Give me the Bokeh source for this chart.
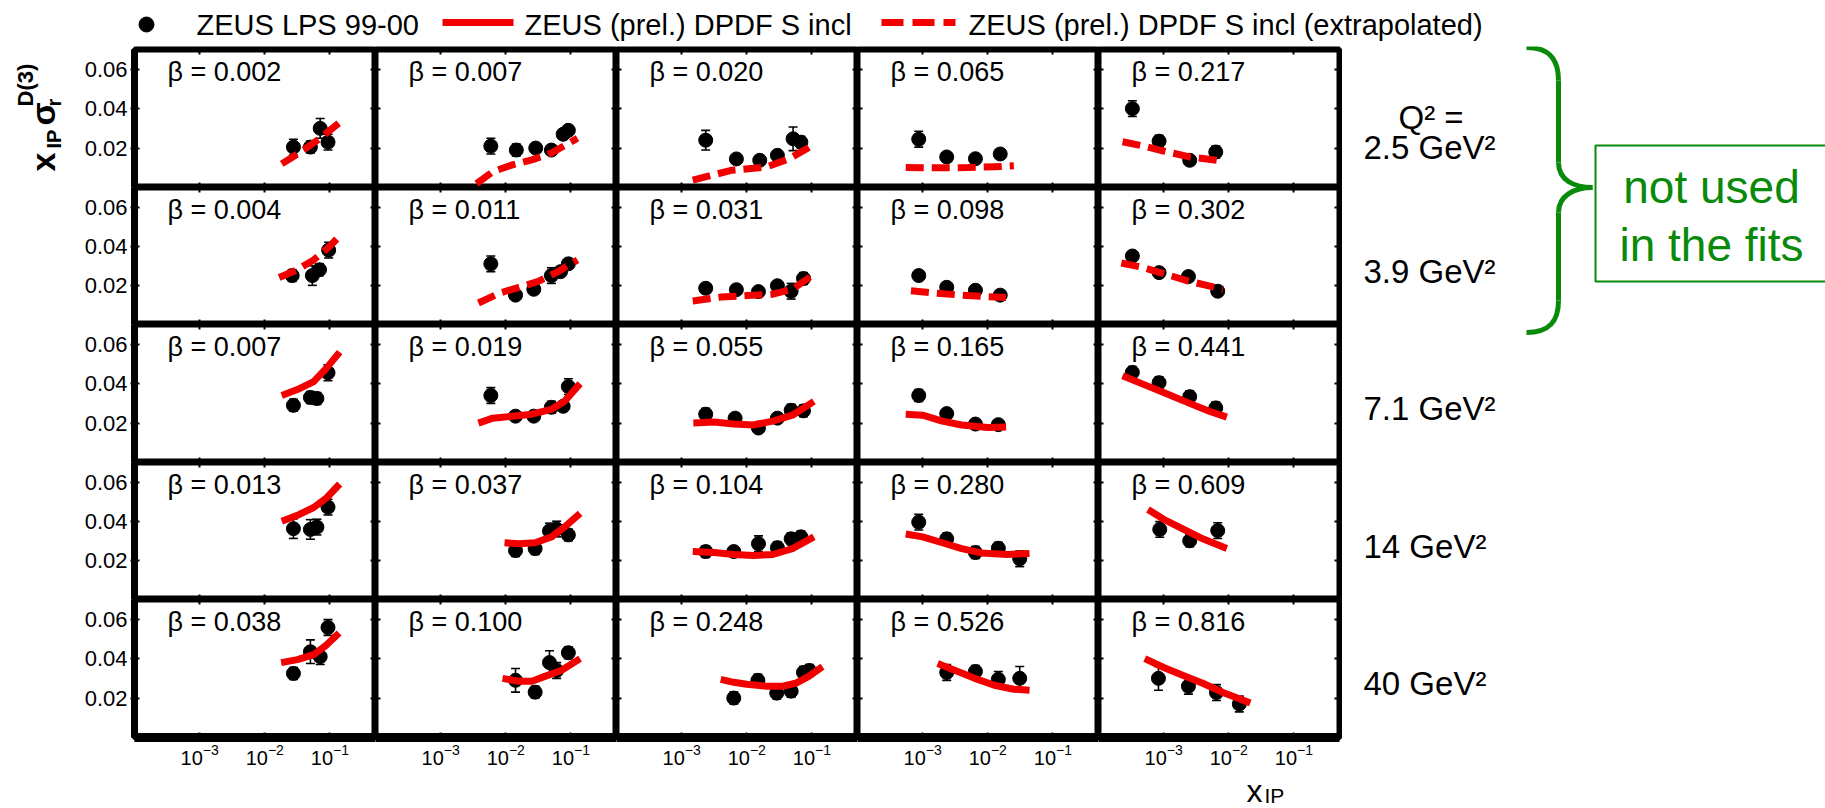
import math

from bokeh.core.properties import value
from bokeh.embed import file_html
from bokeh.layouts import column, row
from bokeh.models import (ColumnDataSource, CustomJSTickFormatter, FixedTicker,
                          LinearAxis, LogAxis, LogTickFormatter, Range1d,
                          TeeHead, Whisker)
from bokeh.plotting import figure
from bokeh.resources import INLINE

# ---------------------------------------------------------------- data
# Q^2 bins (rows) and beta bins (columns)
q2_labels = ["2.5 GeV²", "3.9 GeV²", "7.1 GeV²", "14  GeV²", "40  GeV²"]
beta_25 = [0.002, 0.007, 0.020, 0.065, 0.217]
beta_39 = [0.004, 0.011, 0.031, 0.098, 0.302]
beta_71 = [0.007, 0.019, 0.055, 0.165, 0.441]
beta_14 = [0.013, 0.037, 0.104, 0.280, 0.609]
beta_40 = [0.038, 0.100, 0.248, 0.526, 0.816]

# ZEUS LPS 99-00 measurements: x_IP, x_IP*sigma_r^D(3), uncertainty
xip_25 = [[0.0275, 0.0501, 0.0708, 0.0933],
          [0.00589, 0.0145, 0.0288, 0.0501, 0.0759, 0.0912],
          [0.00234, 0.00692, 0.0158, 0.0295, 0.0513, 0.0676],
          [0.000871, 0.00234, 0.00646, 0.0155],
          [0.000331, 0.000851, 0.00251, 0.00631]]
sig_25 = [[0.0205, 0.0205, 0.0300, 0.0230],
          [0.021, 0.019, 0.020, 0.019, 0.027, 0.029],
          [0.024, 0.0145, 0.0138, 0.0163, 0.0247, 0.023],
          [0.0245, 0.0155, 0.0146, 0.017],
          [0.040, 0.0235, 0.0138, 0.018]]
err_25 = [[0.004, 0.003, 0.005, 0.004],
          [0.004, 0.003, 0.002, 0.002, 0.002, 0.002],
          [0.005, 0.002, 0.002, 0.002, 0.006, 0.003],
          [0.004, 0.002, 0.002, 0.002],
          [0.004, 0.003, 0.002, 0.003]]

xip_39 = [[0.0263, 0.0537, 0.0692, 0.0955],
          [0.00589, 0.0141, 0.0269, 0.0501, 0.0692, 0.0912],
          [0.00234, 0.00692, 0.0151, 0.0295, 0.0479, 0.0741],
          [0.000871, 0.00234, 0.00646, 0.0155],
          [0.000331, 0.000851, 0.0024, 0.00676]]
sig_39 = [[0.025, 0.025, 0.028, 0.038],
          [0.031, 0.015, 0.018, 0.025, 0.027, 0.031],
          [0.0185, 0.0178, 0.0168, 0.0198, 0.017, 0.0235],
          [0.025, 0.019, 0.0175, 0.015],
          [0.035, 0.0265, 0.0245, 0.017]]
err_39 = [[0.003, 0.005, 0.003, 0.004],
          [0.004, 0.002, 0.002, 0.004, 0.002, 0.002],
          [0.002, 0.002, 0.002, 0.002, 0.004, 0.003],
          [0.002, 0.002, 0.002, 0.002],
          [0.002, 0.002, 0.002, 0.002]]

xip_71 = [[0.0275, 0.0501, 0.0631, 0.0933],
          [0.00589, 0.0141, 0.0269, 0.0501, 0.0759, 0.0912],
          [0.00234, 0.00661, 0.0151, 0.0295, 0.0479, 0.0741],
          [0.000871, 0.00234, 0.00646, 0.0145],
          [0.000331, 0.000851, 0.00251, 0.00631]]
sig_71 = [[0.029, 0.033, 0.0325, 0.0455],
          [0.034, 0.0235, 0.0235, 0.028, 0.0285, 0.0385],
          [0.0245, 0.0225, 0.0175, 0.0225, 0.0265, 0.0262],
          [0.034, 0.0248, 0.0195, 0.0192],
          [0.0457, 0.0405, 0.0334, 0.0277]]
err_71 = [[0.003, 0.003, 0.003, 0.004],
          [0.004, 0.002, 0.002, 0.003, 0.002, 0.004],
          [0.003, 0.002, 0.002, 0.002, 0.003, 0.003],
          [0.003, 0.002, 0.002, 0.002],
          [0.003, 0.003, 0.003, 0.003]]

xip_14 = [[0.0275, 0.0501, 0.0631, 0.0933],
          [0.0141, 0.0282, 0.0468, 0.0603, 0.0912],
          [0.00234, 0.00631, 0.0151, 0.0295, 0.0479, 0.0676],
          [0.000871, 0.00234, 0.00646, 0.0145, 0.0309],
          [0.000871, 0.00251, 0.00676]]
sig_14 = [[0.0362, 0.0358, 0.037, 0.0472],
          [0.025, 0.026, 0.035, 0.036, 0.033],
          [0.0245, 0.0245, 0.0285, 0.0265, 0.031, 0.032],
          [0.0395, 0.031, 0.024, 0.0262, 0.0208],
          [0.0358, 0.030, 0.0352]]
err_14 = [[0.005, 0.005, 0.004, 0.004],
          [0.003, 0.003, 0.004, 0.004, 0.003],
          [0.003, 0.002, 0.004, 0.003, 0.003, 0.003],
          [0.004, 0.003, 0.003, 0.003, 0.004],
          [0.004, 0.003, 0.004]]

xip_40 = [[0.0275, 0.0501, 0.0708, 0.0933],
          [0.0141, 0.0282, 0.0468, 0.0603, 0.0912],
          [0.00631, 0.0148, 0.0288, 0.0479, 0.0741, 0.0912],
          [0.00234, 0.00646, 0.0145, 0.0309],
          [0.000832, 0.0024, 0.00646, 0.0145]]
sig_40 = [[0.0325, 0.0435, 0.041, 0.0558],
          [0.029, 0.023, 0.038, 0.034, 0.043],
          [0.020, 0.029, 0.0225, 0.0235, 0.033, 0.034],
          [0.033, 0.0335, 0.0295, 0.030],
          [0.030, 0.026, 0.0228, 0.017]]
err_40 = [[0.003, 0.006, 0.004, 0.004],
          [0.006, 0.003, 0.006, 0.004, 0.003],
          [0.003, 0.003, 0.003, 0.003, 0.003, 0.003],
          [0.004, 0.003, 0.004, 0.006],
          [0.006, 0.004, 0.004, 0.004]]

# ZEUS (prel.) DPDF S incl predictions
fit_xip_25 = [[0.0182, 0.0355, 0.0708, 0.141],
              [0.00355, 0.00631, 0.0126, 0.0251, 0.0501, 0.126],
              [0.00148, 0.00575, 0.02, 0.0447, 0.102],
              [0.00055, 0.00158, 0.00501, 0.0126, 0.0251],
              [0.000234, 0.000501, 0.001, 0.00251, 0.00794]]
fit_sig_25 = [[0.012, 0.018, 0.025, 0.033],
              [0.002, 0.008, 0.0115, 0.014, 0.0175, 0.025],
              [0.0037, 0.0087, 0.0104, 0.0146, 0.0213],
              [0.0102, 0.0100, 0.0101, 0.0105, 0.011],
              [0.0232, 0.021, 0.0185, 0.0155, 0.0135]]

fit_xip_39 = [[0.0166, 0.0316, 0.0562, 0.1, 0.138],
              [0.0038, 0.00794, 0.0158, 0.0316, 0.0631, 0.126],
              [0.00148, 0.00398, 0.01, 0.0251, 0.0501, 0.1],
              [0.000661, 0.00158, 0.00398, 0.01, 0.0191],
              [0.000224, 0.000501, 0.000912, 0.0024, 0.00813]]
fit_sig_39 = [[0.024, 0.028, 0.033, 0.040, 0.045],
              [0.011, 0.016, 0.019, 0.022, 0.027, 0.033],
              [0.012, 0.014, 0.0148, 0.0155, 0.018, 0.025],
              [0.0172, 0.016, 0.015, 0.0142, 0.0138],
              [0.0314, 0.029, 0.0264, 0.0222, 0.018]]

fit_xip_71 = [[0.0182, 0.0316, 0.0562, 0.0891, 0.141],
              [0.0038, 0.00631, 0.0126, 0.0251, 0.0501, 0.0794, 0.138],
              [0.00151, 0.00316, 0.00631, 0.0126, 0.0251, 0.0501, 0.107],
              [0.00055, 0.001, 0.002, 0.00398, 0.01, 0.0191],
              [0.000234, 0.000501, 0.001, 0.00251, 0.00501, 0.00933]]
fit_sig_71 = [[0.034, 0.037, 0.041, 0.048, 0.056],
              [0.020, 0.0225, 0.0235, 0.0245, 0.027, 0.031, 0.040],
              [0.020, 0.0205, 0.0195, 0.019, 0.021, 0.024, 0.031],
              [0.0245, 0.024, 0.021, 0.019, 0.0178, 0.018],
              [0.044, 0.0395, 0.0355, 0.030, 0.026, 0.023]]

fit_xip_14 = [[0.0182, 0.0316, 0.0562, 0.0891, 0.141],
              [0.00955, 0.0158, 0.0282, 0.0501, 0.0794, 0.138],
              [0.00148, 0.00316, 0.00631, 0.0126, 0.0251, 0.0501, 0.107],
              [0.00055, 0.001, 0.002, 0.00398, 0.00794, 0.02, 0.0437],
              [0.000575, 0.001, 0.002, 0.00398, 0.00933]]
fit_sig_14 = [[0.040, 0.043, 0.047, 0.052, 0.059],
              [0.029, 0.0285, 0.029, 0.032, 0.037, 0.044],
              [0.0245, 0.024, 0.023, 0.0225, 0.023, 0.026, 0.032],
              [0.0335, 0.032, 0.029, 0.026, 0.0238, 0.023, 0.0235],
              [0.046, 0.041, 0.036, 0.031, 0.026]]

fit_xip_40 = [[0.0178, 0.0316, 0.0562, 0.0891, 0.138],
              [0.00891, 0.0158, 0.0251, 0.0398, 0.0708, 0.138],
              [0.00398, 0.00631, 0.01, 0.02, 0.0355, 0.0562, 0.0891, 0.145],
              [0.0017, 0.00316, 0.00631, 0.0126, 0.0251, 0.0437],
              [0.000513, 0.001, 0.002, 0.00398, 0.00794, 0.0214]]
fit_sig_40 = [[0.038, 0.0395, 0.042, 0.047, 0.053],
              [0.030, 0.0285, 0.0285, 0.031, 0.034, 0.040],
              [0.0295, 0.028, 0.027, 0.026, 0.026, 0.0275, 0.031, 0.036],
              [0.0375, 0.034, 0.030, 0.0265, 0.0245, 0.024],
              [0.040, 0.0355, 0.0315, 0.0275, 0.023, 0.0175]]

# the two lowest Q^2 bins were not used in the fit: curves are extrapolated
extrapolated = [True, True, False, False, False]

x_ticks = [1e-3, 1e-2, 1e-1]
y_ticks = [0.02, 0.04, 0.06]

rows_data = [
    (beta_25, xip_25, sig_25, err_25, fit_xip_25, fit_sig_25),
    (beta_39, xip_39, sig_39, err_39, fit_xip_39, fit_sig_39),
    (beta_71, xip_71, sig_71, err_71, fit_xip_71, fit_sig_71),
    (beta_14, xip_14, sig_14, err_14, fit_xip_14, fit_sig_14),
    (beta_40, xip_40, sig_40, err_40, fit_xip_40, fit_sig_40),
]

# ---------------------------------------------------------------- style
FONT = "Liberation Sans"
RED = "#f20000"
GREEN = "#0a8a0a"
X_MIN, X_MAX = 1e-4, 0.5
Y_MIN, Y_MAX = 0.0, 0.07

TITLE_W = 75          # strip holding the vertical axis title
YLAB_W = 59           # room for the y tick labels of the first column
COL_W = 241           # frame width of one panel
ROW_H = [138, 137, 138, 137, 138]
TOP_PAD, BOTTOM_PAD, RIGHT_PAD = 3, 35, 3
HEADER_H, FOOT_H = 46, 36
PAGE_W = 1825
SIDE_W = PAGE_W - (TITLE_W + YLAB_W + 5 * COL_W + RIGHT_PAD)
GRID_H = sum(ROW_H) + TOP_PAD + BOTTOM_PAD
GRID_TOP = HEADER_H
GRID_BOTTOM = HEADER_H + GRID_H
LOG_SPAN = math.log10(X_MAX / X_MIN)


def px_to_x(px):
    """x_IP value lying px pixels right of a panel's left edge."""
    return 10 ** (math.log10(X_MIN) + px / COL_W * LOG_SPAN)


def no_grid(f):
    f.xgrid.visible = False
    f.ygrid.visible = False
    return f


def style_axis(ax, labelled, tick_out=0):
    ax.major_tick_in = 5
    ax.major_tick_out = tick_out
    ax.major_tick_line_color = "black"
    ax.major_tick_line_width = 2
    ax.minor_tick_line_color = None
    ax.axis_line_color = None
    if labelled:
        ax.major_label_text_font = FONT
        ax.major_label_text_color = "black"
    else:
        ax.formatter = CustomJSTickFormatter(code="return ''")
        ax.major_label_text_font_size = "0px"
        ax.major_label_standoff = 0


def panel(r, c):
    betas, xs, ys, es, fxs, fys = rows_data[r]
    left = YLAB_W if c == 0 else 0
    right = RIGHT_PAD if c == 4 else 0
    top = TOP_PAD if r == 0 else 0
    bottom = BOTTOM_PAD if r == 4 else 0
    p = figure(width=COL_W + left + right, height=ROW_H[r] + top + bottom,
               x_axis_type="log", x_range=Range1d(X_MIN, X_MAX),
               y_range=Range1d(Y_MIN, Y_MAX),
               x_axis_location=None, y_axis_location=None,
               toolbar_location=None, output_backend="svg",
               min_border_left=left, min_border_right=right,
               min_border_top=top, min_border_bottom=bottom,
               outline_line_color="black", outline_line_width=6,
               background_fill_color="white", border_fill_color="white")
    no_grid(p)

    xt = FixedTicker(ticks=x_ticks, minor_ticks=[])
    yt = FixedTicker(ticks=y_ticks, minor_ticks=[])

    below = LogAxis(ticker=xt)
    style_axis(below, r == 4)
    if r == 4:
        below.formatter = LogTickFormatter()
        below.major_label_text_font_size = "20px"
        below.major_label_standoff = 6
        below.axis_line_color = "black"
        below.axis_line_width = 9
    p.add_layout(below, "below")

    above = LogAxis(ticker=xt)
    style_axis(above, False)
    p.add_layout(above, "above")

    left_ax = LinearAxis(ticker=yt)
    style_axis(left_ax, c == 0, tick_out=4 if c == 0 else 0)
    if c == 0:
        left_ax.major_label_text_font_size = "22px"
        left_ax.major_label_standoff = 3
        left_ax.axis_line_color = "black"
        left_ax.axis_line_width = 7
    p.add_layout(left_ax, "left")

    right_ax = LinearAxis(ticker=yt)
    style_axis(right_ax, False)
    p.add_layout(right_ax, "right")

    # data points with error bars
    src = ColumnDataSource(dict(
        x=xs[c], y=ys[c],
        lower=[y - e for y, e in zip(ys[c], es[c])],
        upper=[y + e for y, e in zip(ys[c], es[c])],
    ))
    p.add_layout(Whisker(source=src, base="x", lower="lower", upper="upper",
                         line_color="black", line_width=1.6,
                         upper_head=TeeHead(size=9, line_color="black", line_width=1.6),
                         lower_head=TeeHead(size=9, line_color="black", line_width=1.6)))
    p.scatter("x", "y", source=src, size=14, color="black")

    # DPDF prediction
    dash = "18 8" if extrapolated[r] else "solid"
    p.line(fxs[c], fys[c], line_color=RED, line_width=7, line_dash=dash,
           line_join="round")

    # beta of the bin, near the top-left corner
    ly = Y_MAX * (1 - 22 / ROW_H[r])
    p.text([px_to_x(33)], [ly], text=[f"β = {betas[c]:.3f}"], text_font=value(FONT),
           text_font_size="27px", text_color="black", text_baseline="middle",
           text_align="left")
    return p


def blank(width, height, xr, yr):
    f = figure(width=width, height=height, x_range=Range1d(*xr), y_range=Range1d(*yr),
               x_axis_location=None, y_axis_location=None, toolbar_location=None,
               output_backend="svg", min_border_left=0, min_border_right=0,
               min_border_top=0, min_border_bottom=0, outline_line_color=None,
               background_fill_color="white", border_fill_color="white")
    return no_grid(f)


# ---------------------------------------------------------------- legend strip
header = blank(PAGE_W, HEADER_H, (0, PAGE_W), (HEADER_H, 0))
leg_font = dict(text_font=value(FONT), text_font_size="29px", text_color="black",
                text_baseline="middle", text_align="left")
header.scatter([146], [24], size=15, color="black")
header.text([196], [24], text=["ZEUS LPS 99-00"], **leg_font)
header.line([442, 513], [22, 22], line_color=RED, line_width=7)
header.text([524], [24], text=["ZEUS (prel.) DPDF S incl"], **leg_font)
header.line([881, 955], [22, 22], line_color=RED, line_width=7, line_dash="22 9")
header.text([968], [24], text=["ZEUS (prel.) DPDF S incl (extrapolated)"], **leg_font)

# ---------------------------------------------------------------- y-axis title
ytitle = blank(TITLE_W, GRID_H, (0, TITLE_W), (GRID_BOTTOM, GRID_TOP))
for txt, tx, ty, size in [("x", 42, 171, "34px"), ("IP", 53, 148, "20px"),
                          ("σ", 42, 125, "34px"), ("r", 53, 106, "20px"),
                          ("D(3)", 25, 106, "22px")]:
    ytitle.text([tx], [ty], text=[txt], angle=math.pi / 2, text_font=value(FONT),
                text_font_size=size, text_font_style="bold", text_color="black",
                text_baseline="middle", text_align="left")

# ---------------------------------------------------------------- Q^2 labels, brace, note
x0_side = PAGE_W - SIDE_W
side = blank(SIDE_W, GRID_H, (x0_side, PAGE_W), (GRID_BOTTOM, GRID_TOP))
q_font = dict(text_font=value(FONT), text_font_size="33px", text_color="black",
              text_baseline="middle", text_align="left")
row_tops = [GRID_TOP + TOP_PAD + sum(ROW_H[:i]) for i in range(5)]
side.text([1398], [117], text=["Q² ="], **q_font)
side.text([1363], [147], text=[q2_labels[0]], **q_font)
for i in range(1, 5):
    side.text([1363], [row_tops[i] + 84], text=[q2_labels[i]], **q_font)

brace = dict(line_color=GREEN, line_width=5)
BX = 1558
side.bezier(x0=[1526], y0=[47], x1=[BX], y1=[80], cx0=[1550], cy0=[47],
            cx1=[BX], cy1=[60], **brace)
side.segment(x0=[BX], y0=[80], x1=[BX], y1=[162], **brace)
side.bezier(x0=[BX], y0=[162], x1=[1592], y1=[187], cx0=[BX], cy0=[180],
            cx1=[1574], cy1=[187], **brace)
side.bezier(x0=[1592], y0=[187], x1=[BX], y1=[212], cx0=[1574], cy0=[187],
            cx1=[BX], cy1=[195], **brace)
side.segment(x0=[BX], y0=[212], x1=[BX], y1=[300], **brace)
side.bezier(x0=[BX], y0=[300], x1=[1526], y1=[332], cx0=[BX], cy0=[320],
            cx1=[1550], cy1=[332], **brace)

side.quad(left=[1595], right=[1840], top=[145], bottom=[281],
          fill_color=None, line_color=GREEN, line_width=2)
note_font = dict(text_font=value(FONT), text_font_size="46px", text_color=GREEN,
                 text_baseline="middle", text_align="center")
side.text([1711], [186], text=["not used"], **note_font)
side.text([1711], [244], text=["in the fits"], **note_font)

# ---------------------------------------------------------------- x-axis title
footer = blank(PAGE_W, FOOT_H, (0, PAGE_W), (GRID_BOTTOM + FOOT_H, GRID_BOTTOM))
footer.text([1246], [790], text=["x"], text_font=value(FONT), text_font_size="32px",
            text_color="black", text_baseline="middle", text_align="left")
footer.text([1264], [795], text=["IP"], text_font=value(FONT), text_font_size="21px",
            text_color="black", text_baseline="middle", text_align="left")

# ---------------------------------------------------------------- layout
grid = column(*[row(*[panel(r, c) for c in range(5)]) for r in range(5)])
page = column(header, row(ytitle, grid, side), footer)

with open("out.html", "w") as f:
    f.write(file_html(page, INLINE, title="ZEUS LPS diffractive reduced cross section"))
